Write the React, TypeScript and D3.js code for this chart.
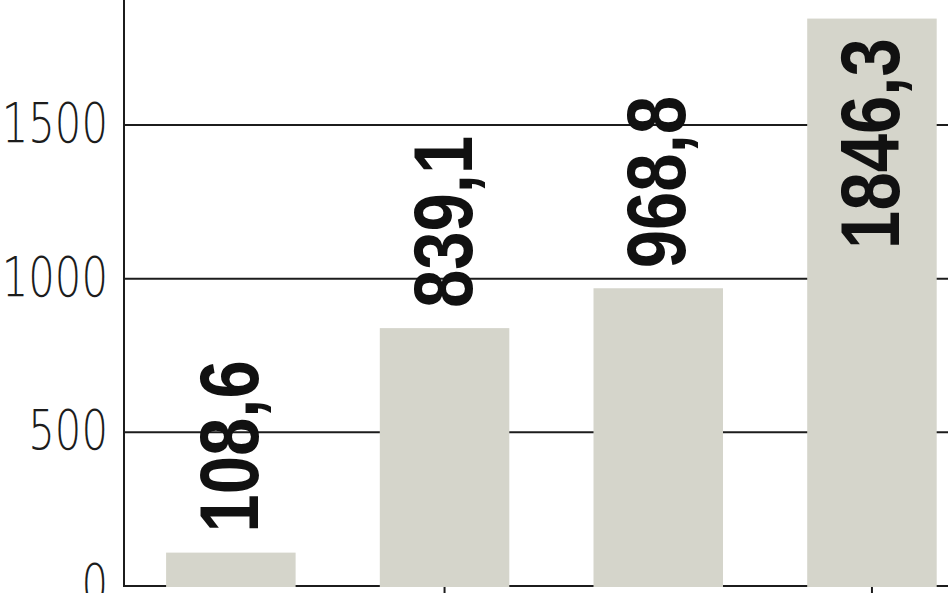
import { useEffect, useRef } from "react"
import * as d3 from "d3"

const categories = ["A", "B", "C", "D"]
const values = [108.6, 839.1, 968.8, 1846.3]
const yTicks = [0, 500, 1000, 1500]
const xTickCategories = ["B", "D"]

const WIDTH = 948
const HEIGHT = 593
const AXIS_X = 124
const BASE_Y = 586

export default function App() {
  const svgRef = useRef<SVGSVGElement>(null)

  useEffect(() => {
    if (!svgRef.current) return
    const svg = d3.select(svgRef.current)
    svg.selectAll("*").remove()

    const x = d3
      .scaleBand<string>()
      .domain(categories)
      .range([AXIS_X, AXIS_X + 4 * 213.7])
      .paddingInner(0.394)
      .paddingOuter(0.197)

    const y = d3.scaleLinear().domain([0, 1500]).range([BASE_Y, 125])

    // gridlines (behind bars)
    svg
      .append("g")
      .selectAll("line")
      .data(yTicks)
      .join("line")
      .attr("x1", AXIS_X)
      .attr("x2", WIDTH)
      .attr("y1", (d) => y(d))
      .attr("y2", (d) => y(d))
      .attr("stroke", "#1c1c1c")
      .attr("stroke-width", 2)

    // x ticks
    svg
      .append("g")
      .selectAll("line")
      .data(xTickCategories)
      .join("line")
      .attr("x1", (d) => x(d)! + x.bandwidth() / 2)
      .attr("x2", (d) => x(d)! + x.bandwidth() / 2)
      .attr("y1", BASE_Y)
      .attr("y2", BASE_Y + 12)
      .attr("stroke", "#1c1c1c")
      .attr("stroke-width", 2)

    // bars
    svg
      .append("g")
      .selectAll("rect")
      .data(values)
      .join("rect")
      .attr("x", (_, i) => x(categories[i])!)
      .attr("width", x.bandwidth())
      .attr("y", (d) => y(d))
      .attr("height", (d) => BASE_Y - y(d) + 1)
      .attr("fill", "#d5d5cb")

    // y axis line
    svg
      .append("line")
      .attr("x1", AXIS_X)
      .attr("x2", AXIS_X)
      .attr("y1", 0)
      .attr("y2", BASE_Y + 1)
      .attr("stroke", "#1c1c1c")
      .attr("stroke-width", 2)

    // y tick labels
    svg
      .append("g")
      .selectAll("text")
      .data(yTicks)
      .join("text")
      .attr("transform", (d) => `translate(${AXIS_X - 16},${y(d) + 17}) scale(0.76,1)`)
      .attr("text-anchor", "end")
      .attr("font-family", "DejaVu Sans")
      .attr("font-weight", 200)
      .attr("font-size", 55)
      .attr("fill", "#1c1c1c")
      .text((d) => String(d))

    // value labels, rotated; inside the bar when there's no room above
    const fmt = (v: number) => d3.format(".1f")(v).replace(".", ",")
    const labelLen = (v: number) => ((fmt(v).length - 1) * 46.7 + 23) * 0.82
    svg
      .append("g")
      .selectAll("text")
      .data(values)
      .join("text")
      .attr("transform", (d, i) => {
        const cx = x(categories[i])! + x.bandwidth() / 2 + 27
        const top = y(d)
        const fits = top - 20 - labelLen(d) > 0
        const ty = fits ? top - 20 : top + 20 + labelLen(d)
        return `translate(${cx},${ty}) rotate(-90) scale(0.82,1)`
      })
      .attr("text-anchor", "start")
      .attr("font-family", "Liberation Sans")
      .attr("font-weight", 700)
      .attr("font-size", 84)
      .attr("fill", "#111")
      .text((d) => fmt(d))
  }, [])

  return (
    <svg
      ref={svgRef}
      width={WIDTH}
      height={HEIGHT}
      style={{ position: "absolute", left: 0, top: 0, background: "#fff" }}
    />
  )
}
